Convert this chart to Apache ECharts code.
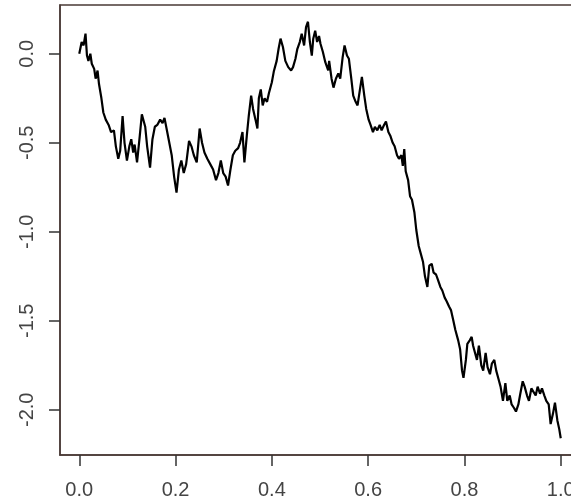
<!DOCTYPE html>
<html>
<head>
<meta charset="utf-8">
<script src="https://cdn.jsdelivr.net/npm/echarts@6/dist/echarts.min.js"></script>
<style>html,body{margin:0;padding:0;background:#fff;overflow:hidden;width:571px;height:501px;}#c{width:580px;height:501px;}</style>
</head>
<body>
<div id="c"></div>
<script>
var times = [0,0.005,0.009,0.013,0.016,0.019,0.023,0.026,0.031,0.034,0.038,0.041,0.046,0.05,0.055,0.061,0.066,0.072,0.076,0.081,0.085,0.09,0.094,0.099,0.104,0.108,0.112,0.115,0.12,0.125,0.13,0.137,0.141,0.147,0.152,0.157,0.162,0.168,0.173,0.177,0.182,0.187,0.192,0.197,0.202,0.207,0.212,0.217,0.222,0.228,0.233,0.238,0.244,0.25,0.255,0.26,0.266,0.272,0.278,0.284,0.289,0.294,0.299,0.304,0.309,0.314,0.319,0.324,0.33,0.334,0.339,0.343,0.348,0.352,0.357,0.361,0.366,0.37,0.373,0.377,0.381,0.385,0.39,0.394,0.4,0.404,0.41,0.414,0.418,0.423,0.428,0.434,0.44,0.444,0.449,0.453,0.458,0.462,0.467,0.471,0.475,0.479,0.483,0.486,0.49,0.494,0.498,0.501,0.506,0.511,0.517,0.519,0.524,0.528,0.533,0.538,0.542,0.547,0.551,0.556,0.56,0.565,0.569,0.574,0.578,0.583,0.587,0.592,0.596,0.601,0.605,0.61,0.614,0.619,0.624,0.628,0.633,0.637,0.642,0.646,0.651,0.655,0.66,0.664,0.669,0.672,0.675,0.678,0.683,0.687,0.691,0.696,0.7,0.705,0.709,0.714,0.718,0.723,0.727,0.732,0.736,0.741,0.745,0.75,0.754,0.759,0.763,0.768,0.772,0.777,0.781,0.787,0.791,0.795,0.798,0.803,0.806,0.811,0.815,0.818,0.821,0.826,0.83,0.835,0.839,0.844,0.848,0.853,0.857,0.862,0.866,0.871,0.875,0.88,0.885,0.889,0.894,0.898,0.903,0.907,0.912,0.916,0.921,0.925,0.93,0.934,0.939,0.943,0.948,0.952,0.957,0.961,0.966,0.97,0.975,0.979,0.984,0.988,0.993,0.997,1.0];
var values = [0,0.066,0.047,0.113,-0.01,-0.04,0,-0.056,-0.085,-0.14,-0.094,-0.17,-0.25,-0.33,-0.37,-0.40,-0.44,-0.43,-0.52,-0.59,-0.545,-0.35,-0.50,-0.60,-0.52,-0.48,-0.555,-0.51,-0.61,-0.48,-0.34,-0.41,-0.52,-0.64,-0.48,-0.41,-0.40,-0.37,-0.39,-0.36,-0.43,-0.50,-0.57,-0.69,-0.78,-0.65,-0.60,-0.67,-0.62,-0.49,-0.52,-0.57,-0.61,-0.42,-0.50,-0.555,-0.59,-0.62,-0.65,-0.71,-0.67,-0.60,-0.67,-0.69,-0.74,-0.65,-0.57,-0.545,-0.53,-0.50,-0.44,-0.61,-0.46,-0.35,-0.235,-0.31,-0.37,-0.42,-0.25,-0.20,-0.29,-0.25,-0.27,-0.22,-0.16,-0.10,-0.04,0.028,0.085,0.038,-0.04,-0.075,-0.094,-0.075,-0.028,0.028,0.066,0.113,0.047,0.15,0.18,0.066,-0.01,0.085,0.13,0.066,0.10,0.056,0.01,-0.047,-0.094,-0.04,-0.14,-0.19,-0.14,-0.11,-0.14,-0.02,0.047,-0.01,-0.028,-0.14,-0.235,-0.27,-0.29,-0.20,-0.13,-0.235,-0.31,-0.37,-0.40,-0.44,-0.41,-0.43,-0.40,-0.43,-0.40,-0.38,-0.44,-0.46,-0.50,-0.52,-0.57,-0.59,-0.57,-0.63,-0.535,-0.66,-0.71,-0.80,-0.82,-0.89,-0.99,-1.08,-1.12,-1.17,-1.25,-1.31,-1.19,-1.18,-1.23,-1.24,-1.27,-1.31,-1.33,-1.37,-1.39,-1.42,-1.44,-1.50,-1.55,-1.61,-1.66,-1.78,-1.82,-1.72,-1.63,-1.61,-1.59,-1.64,-1.63,-1.72,-1.64,-1.75,-1.78,-1.68,-1.76,-1.80,-1.74,-1.72,-1.78,-1.83,-1.87,-1.95,-1.85,-1.95,-1.92,-1.97,-1.99,-2.01,-1.97,-1.91,-1.84,-1.87,-1.92,-1.95,-1.88,-1.87,-1.92,-1.87,-1.91,-1.88,-1.92,-1.95,-1.97,-2.08,-2.02,-1.96,-2.06,-2.11,-2.16];
var xTicks = [0, 0.2, 0.4, 0.6, 0.8, 1.0];
var yTicks = [0, -0.5, -1.0, -1.5, -2.0];

var data = times.map(function (t, i) { return [t, values[i]]; });
var boxColor = '#4a3a36';
var labelColor = '#444444';
var chart = echarts.init(document.getElementById('c'), null, {renderer: 'canvas', width: 580, height: 501});
chart.setOption({
  animation: false,
  backgroundColor: '#ffffff',
  grid: {left: 60, top: 5, bottom: 46, right: 0, show: true, borderColor: boxColor, borderWidth: 1.5, backgroundColor: 'transparent'},
  xAxis: {
    type: 'value', min: -0.04, max: 1.04,
    axisLine: {show: true, onZero: false, lineStyle: {color: boxColor, width: 1.5}},
    axisTick: {show: true, length: 11, customValues: xTicks, lineStyle: {color: '#333', width: 1.5}},
    axisLabel: {show: true, customValues: xTicks, margin: 25, fontFamily: 'Liberation Sans', fontSize: 20, color: labelColor,
      formatter: function (v) { return v.toFixed(1); }},
    splitLine: {show: false}
  },
  yAxis: {
    type: 'value', min: -2.254, max: 0.274,
    axisLine: {show: true, onZero: false, lineStyle: {color: boxColor, width: 1.5}},
    axisTick: {show: true, length: 11, customValues: yTicks, lineStyle: {color: '#333', width: 1.5}},
    axisLabel: {show: true, customValues: yTicks, margin: 23, rotate: 90, fontFamily: 'Liberation Sans', fontSize: 20, color: labelColor,
      formatter: function (v) { return v.toFixed(1); }},
    splitLine: {show: false}
  },
  series: [{
    type: 'line', data: data, showSymbol: false, symbol: 'none',
    lineStyle: {color: '#000000', width: 2.2}
  }]
});
</script>
</body>
</html>
